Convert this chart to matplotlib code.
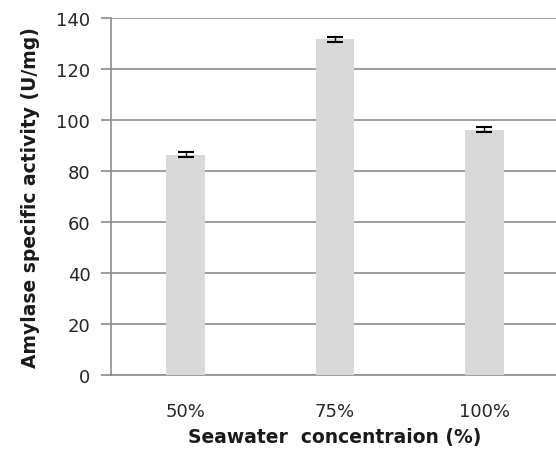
import matplotlib
matplotlib.use("Agg")
import matplotlib.pyplot as plt
import numpy as np

categories = ["50%", "75%", "100%"]
activity = [86.5, 131.8, 96.3]
errors = [1.0, 1.0, 1.0]

fig = plt.figure(figsize=(5.56, 4.56), dpi=100)
ax = fig.add_axes([0.2, 0.175, 0.805, 0.783])

x = np.arange(len(categories))
ax.bar(x, activity, width=0.26, color="#d9d9d9", zorder=3)
ax.errorbar(x, activity, yerr=errors, fmt="none", ecolor="black",
            elinewidth=1, capsize=5.5, capthick=1.5, zorder=4)

ax.set_ylim(0, 140)
ax.set_yticks(range(0, 141, 20))
ax.set_xlim(-0.5, 2.5)
ax.set_xticks(x)
ax.set_xticklabels(categories)
ax.grid(axis="y", color="#8c8c8c", linewidth=1.2, zorder=0)

for s in ["top", "right"]:
    ax.spines[s].set_visible(False)
for s in ["left", "bottom"]:
    ax.spines[s].set_color("#8c8c8c")
    ax.spines[s].set_linewidth(1.2)

ax.tick_params(axis="y", length=7, color="#8c8c8c", width=1.2, labelsize=13,
               labelcolor="#262626", pad=8)
ax.tick_params(axis="x", length=0, labelsize=13, labelcolor="#262626", pad=19)

ax.set_ylabel("Amylase specific activity (U/mg)", fontsize=13.5, fontweight="bold",
              color="#1a1a1a", labelpad=12)
ax.set_xlabel("Seawater  concentraion (%)", fontsize=13.5, fontweight="semibold",
              color="#1a1a1a", labelpad=5)

fig.savefig("out.png", dpi=100)
